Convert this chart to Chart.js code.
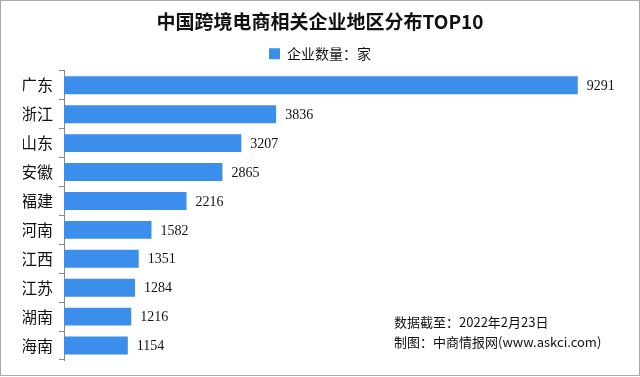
<!DOCTYPE html>
<html>
<head>
<meta charset="utf-8">
<script src="https://cdn.jsdelivr.net/npm/chart.js@4/dist/chart.umd.min.js"></script>
<style>
  html, body { margin: 0; padding: 0; background: #fff; overflow: hidden; }
</style>
</head>
<body>
<canvas id="grafica" width="640" height="377"></canvas>
<script>
// datos
const provincias = ['广东', '浙江', '山东', '安徽', '福建', '河南', '江西', '江苏', '湖南', '海南'];
const empresas = [9291, 3836, 3207, 2865, 2216, 1582, 1351, 1284, 1216, 1154];
const titulo = '中国跨境电商相关企业地区分布TOP10';
const leyenda = '企业数量：家';
const notas = ['数据截至：2022年2月23日', '制图：中商情报网(www.askci.com)'];

const fuente = '"Noto Sans CJK SC", "Noto Sans", sans-serif';

// etiquetas al final de cada barra
const etiquetas = {
  id: 'etiquetas',
  afterDatasetsDraw(chart) {
    const ctx = chart.ctx;
    const meta = chart.getDatasetMeta(0);
    ctx.save();
    ctx.font = '14px "Liberation Serif", serif';
    ctx.fillStyle = '#111';
    ctx.textBaseline = 'middle';
    ctx.textAlign = 'left';
    meta.data.forEach((bar, i) => {
      ctx.fillText(String(empresas[i]), bar.x + 9, bar.y + 1);
    });
    ctx.restore();
  }
};

// marco y notas
const marco = {
  id: 'marco',
  beforeDraw(chart) {
    const ctx = chart.ctx;
    ctx.save();
    ctx.fillStyle = '#fff';
    ctx.fillRect(0, 0, chart.width, chart.height);
    ctx.restore();
  },
  afterDraw(chart) {
    const ctx = chart.ctx;
    ctx.save();
    ctx.strokeStyle = '#a8a8a8';
    ctx.lineWidth = 1;
    ctx.strokeRect(0.5, 0.5, chart.width - 1, chart.height - 2);
    ctx.font = '13px ' + fuente;
    ctx.fillStyle = '#111';
    ctx.textBaseline = 'middle';
    ctx.fillText(notas[0], 394, 322);
    ctx.fillText(notas[1], 394, 342);
    ctx.restore();
  }
};

new Chart(document.getElementById('grafica'), {
  type: 'bar',
  data: {
    labels: provincias,
    datasets: [{
      label: leyenda,
      data: empresas,
      backgroundColor: '#3b8eea',
      barPercentage: 0.62,
      categoryPercentage: 1
    }]
  },
  options: {
    indexAxis: 'y',
    responsive: false,
    animation: false,
    layout: { padding: { left: 23, right: 23, top: 0, bottom: 17 } },
    plugins: {
      title: {
        display: true,
        text: titulo,
        color: '#111',
        font: { family: fuente, size: 19, weight: 'bold' },
        padding: { top: 10, bottom: 12 }
      },
      legend: {
        display: true,
        labels: {
          color: '#111',
          font: { family: fuente, size: 14 },
          boxWidth: 11,
          boxHeight: 11,
          padding: 2
        }
      },
      tooltip: { enabled: false }
    },
    scales: {
      x: {
        display: false,
        min: 0,
        max: 10000
      },
      y: {
        afterFit(scale) { scale.width = 41; },
        border: { display: true, color: '#888', width: 1 },
        grid: {
          display: true,
          offset: true,
          drawOnChartArea: false,
          drawTicks: true,
          tickLength: 5,
          color: '#888'
        },
        ticks: {
          color: '#111',
          padding: 6,
          autoSkip: false,
          font: { family: fuente, size: 16 }
        }
      }
    }
  },
  plugins: [marco, etiquetas]
});
</script>
</body>
</html>
